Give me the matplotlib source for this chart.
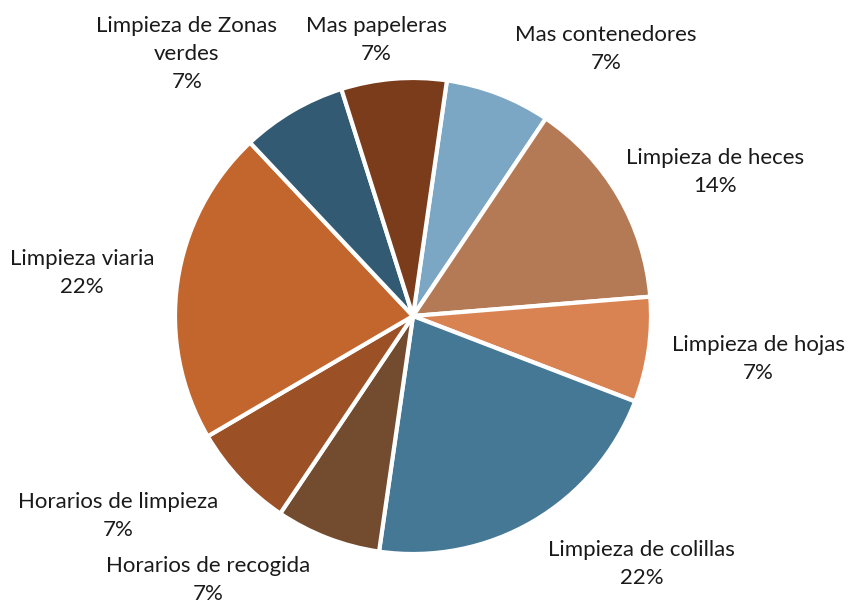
import matplotlib
matplotlib.use("Agg")
import matplotlib.pyplot as plt

# Datos (orden horario desde arriba)
categories = ["Mas contenedores", "Limpieza de heces", "Limpieza de hojas",
              "Limpieza de colillas", "Horarios de recogida", "Horarios de limpieza",
              "Limpieza viaria", "Limpieza de Zonas\nverdes", "Mas papeleras"]
values = [1, 2, 1, 3, 1, 1, 3, 1, 1]
pct_labels = ["7%", "14%", "7%", "22%", "7%", "7%", "22%", "7%", "7%"]

colors = ["#7BA7C4", "#B37A55", "#D98352", "#457895", "#734C2F",
          "#9C5025", "#C3662D", "#325A73", "#7A3C1A"]

# posiciones de las etiquetas (en radios desde el centro)
label_pos = [(0.81, 1.12), (1.27, 0.605), (1.45, -0.18), (0.96, -1.04),
             (-0.86, -1.11), (-1.24, -0.84), (-1.39, 0.18), (-0.95, 1.10),
             (-0.155, 1.16)]

plt.rcParams['font.family'] = ['Lato', 'DejaVu Sans']

fig = plt.figure(figsize=(8.48, 6.04), dpi=100)
ax = fig.add_axes([0, 0, 1, 1])

ax.pie(values, colors=colors, startangle=90 - 8.2, counterclock=False,
       radius=1.0, wedgeprops=dict(edgecolor='white', linewidth=3))

for name, pct, (x, y) in zip(categories, pct_labels, label_pos):
    ax.text(x, y, f"{name}\n{pct}", ha='center', va='center',
            fontsize=16, color='#1a1a1a', linespacing=1.5)

ax.set_xlim(-413 / 238, (848 - 413) / 238)
ax.set_ylim(-(604 - 316) / 238, 316 / 238)
ax.set_aspect('equal')
ax.axis('off')

fig.savefig("out.png", dpi=100)
